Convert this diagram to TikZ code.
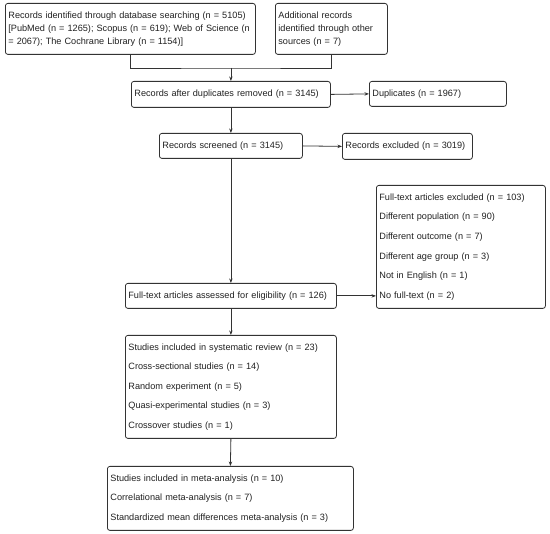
\documentclass[tikz,border=0pt]{standalone}
\usepackage{fontspec}
\setmainfont{Liberation Sans}
\usetikzlibrary{arrows.meta}
\definecolor{linec}{HTML}{333333}
\definecolor{txt}{HTML}{222222}
\begin{document}
\begin{tikzpicture}[x=1pt,y=-1pt,
  bx/.style={draw=linec, line width=0.8pt, rounded corners=2.5pt, anchor=north west,
    align=left, inner xsep=3pt, inner ysep=0pt, font=\fontsize{9.15}{13}\selectfont, text=txt},
  arr/.style={draw=linec, line width=0.8pt, -{Stealth[length=4.5pt,width=3.4pt]}},
  ln/.style={draw=linec, line width=0.8pt}]
\useasboundingbox[fill=white] (0,0) rectangle (550,534);
\node[bx, text width=244pt, minimum height=51pt] (A) at (5,3)
  {Records identified through database searching (n = 5105)\\{[}PubMed (n = 1265); Scopus (n = 619); Web of Science (n\\= 2067); The Cochrane Library (n = 1154)]};
\node[bx, text width=106pt, minimum height=51pt] (B) at (275,3)
  {Additional records\\identified through other\\sources (n = 7)};
\node[bx, text width=193pt, minimum height=26pt] (C) at (131,81)
  {Records after duplicates removed (n = 3145)};
\node[bx, text width=131pt, minimum height=25pt] (D) at (369,81)
  {Duplicates (n = 1967)};
\node[bx, text width=137pt, minimum height=25pt] (E) at (159,133)
  {Records screened (n = 3145)};
\node[bx, text width=124pt, minimum height=26pt] (F) at (342,133)
  {Records excluded (n = 3019)};
\node[bx, text width=205pt, minimum height=25pt] (G) at (125,283)
  {Full-text articles assessed for eligibility (n = 126)};
\node[bx, text width=163pt, minimum height=123pt] (H) at (376,185)
  {Full-text articles excluded (n = 103)\\[6.6pt]Different population (n = 90)\\[6.6pt]Different outcome (n = 7)\\[6.6pt]Different age group (n = 3)\\[6.6pt]Not in English (n = 1)\\[6.6pt]No full-text (n = 2)};
\node[bx, text width=205pt, minimum height=103pt] (I) at (125,335)
  {Studies included in systematic review (n = 23)\\[6.6pt]Cross-sectional studies (n = 14)\\[6.6pt]Random experiment (n = 5)\\[6.6pt]Quasi-experimental studies (n = 3)\\[6.6pt]Crossover studies (n = 1)};
\node[bx, text width=240pt, minimum height=64pt] (J) at (107,466)
  {Studies included in meta-analysis (n = 10)\\[6.6pt]Correlational meta-analysis (n = 7)\\[6.6pt]Standardized mean differences meta-analysis (n = 3)};
\path (C.north) ++(0,-13) coordinate (m);
\draw[ln] (A.south) |- (m) -| (B.south);
\draw[arr] (m) -- (C.north);
\draw[arr] (C.east) -- (D.west);
\draw[arr] (C.south) -- (E.north);
\draw[arr] (E.east) -- (F.west);
\draw[arr] (E.south) -- (G.north);
\draw[arr] (G.east) -- (G.east -| H.west);
\draw[arr] (G.south) -- (I.north);
\draw[arr] (I.south) -- (J.north);
\end{tikzpicture}
\end{document}
